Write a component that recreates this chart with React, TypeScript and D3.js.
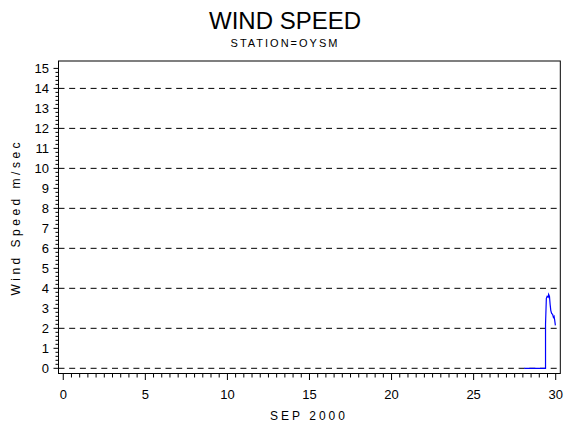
import React from "react";
import * as d3 from "d3";

const W = 570;
const H = 430;

// Data: day of month (Sep 2000, fractional) and wind speed m/sec
const days: number[] = [28.08, 29.38, 29.38, 29.43, 29.48, 29.54, 29.57, 29.62, 29.66, 29.70, 29.75, 29.81, 29.86, 29.90, 29.94, 29.98];
const speeds: number[] = [0, 0, 2.2, 3.5, 3.6, 3.55, 3.7, 3.6, 3.2, 2.9, 2.75, 2.7, 2.55, 2.6, 2.4, 2.15];

const xMajorTicks: number[] = [0, 5, 10, 15, 20, 25, 30];
const yTickLabels: number[] = [0, 1, 2, 3, 4, 5, 6, 7, 8, 9, 10, 11, 12, 13, 14, 15];
const yGridValues: number[] = [0, 2, 4, 6, 8, 10, 12, 14];

const title = "WIND SPEED";
const subtitle = "STATION=OYSM";
const xTitle = "SEP 2000";
const yTitle = "Wind Speed m/sec";

export default function App() {
  const x = d3.scaleLinear().domain([-0.29, 30.28]).range([58.5, 560.3]);
  const y = d3.scaleLinear().domain([-0.26, 15.37]).range([373.5, 61]);

  const x0 = x.range()[0];
  const x1 = x.range()[1];
  const yb = y.range()[0];
  const yt = y.range()[1];

  const xMinor = d3.range(0, 30.001, 0.5);
  const yMinor = d3.range(0, 15.001, 0.2).map((v) => Math.round(v * 10) / 10);

  const pts: [number, number][] = days.map((d, i) => [d, speeds[i]]);
  const line = d3
    .line<[number, number]>()
    .x((d) => x(d[0]))
    .y((d) => y(d[1]));

  const font = "'Liberation Sans', Arial, sans-serif";

  return (
    <svg
      width={W}
      height={H}
      style={{ position: "absolute", left: 0, top: 0, background: "#fff" }}
      fontFamily={font}
    >
      <rect x={0} y={0} width={W} height={H} fill="#fff" />
      <text x={285} y={29} textAnchor="middle" fontSize={24} fill="#000">
        {title}
      </text>
      <text x={285} y={47} textAnchor="middle" fontSize={11} letterSpacing={2} fill="#000">
        {subtitle}
      </text>

      {/* gridlines */}
      {yGridValues.map((v) => (
        <line
          key={"g" + v}
          x1={x0}
          x2={x1}
          y1={y(v)}
          y2={y(v)}
          stroke="#000"
          strokeWidth={1}
          strokeDasharray="6 4.7"
        />
      ))}

      {/* frame */}
      <rect x={x0} y={yt} width={x1 - x0} height={yb - yt} fill="none" stroke="#000" strokeWidth={1} />

      {/* y ticks */}
      {yMinor.map((v) => {
        const major = Math.abs(v - Math.round(v)) < 1e-6;
        return (
          <line
            key={"yt" + v}
            x1={x0 - (major ? 5 : 3)}
            x2={x0}
            y1={y(v)}
            y2={y(v)}
            stroke="#000"
            strokeWidth={1}
          />
        );
      })}
      {yTickLabels.map((v) => (
        <text key={"yl" + v} x={49} y={y(v) + 5} textAnchor="end" fontSize={13} fill="#000">
          {v}
        </text>
      ))}

      {/* x ticks */}
      {xMinor.map((v) => {
        const major = Math.abs(v % 5) < 1e-6;
        return (
          <line
            key={"xt" + v}
            x1={x(v)}
            x2={x(v)}
            y1={yb}
            y2={yb + (major ? 6.5 : 4)}
            stroke="#000"
            strokeWidth={1}
          />
        );
      })}
      {xMajorTicks.map((v) => (
        <text key={"xl" + v} x={x(v)} y={399} textAnchor="middle" fontSize={13} fill="#000">
          {v}
        </text>
      ))}

      <text x={309} y={420} textAnchor="middle" fontSize={12} letterSpacing={3} fill="#000">
        {xTitle}
      </text>
      <text
        transform={`translate(20, ${(yt + yb) / 2}) rotate(-90)`}
        textAnchor="middle"
        fontSize={12}
        letterSpacing={3.5}
        fill="#000"
      >
        {yTitle}
      </text>

      <path d={line(pts) || ""} fill="none" stroke="#0000ff" strokeWidth={1.2} />
    </svg>
  );
}
